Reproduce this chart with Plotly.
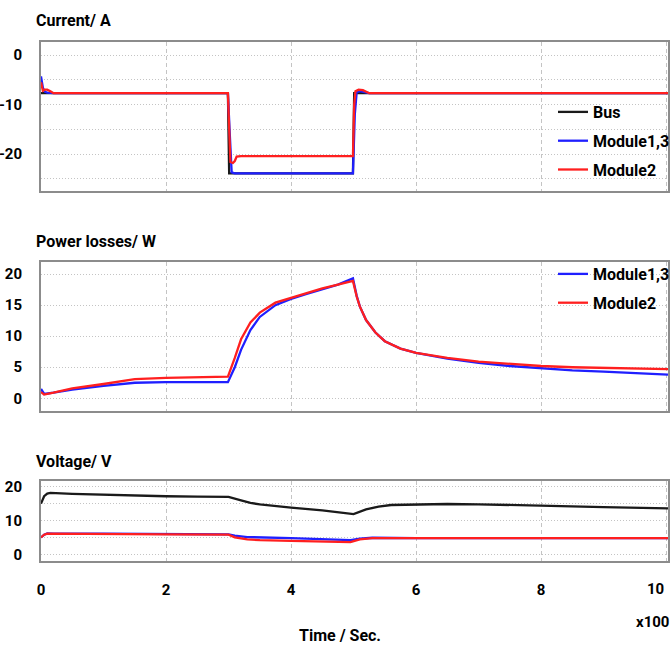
import plotly.graph_objects as go

# ---------------- data ----------------
# Current / A
bus_cur_t = [0, 2.99, 3.01, 4.99, 5.01, 10.03]
bus_cur = [-7.7, -7.7, -23.9, -23.9, -7.7, -7.7]

m13_cur_t = [0, 0.03, 0.06, 0.1, 0.2, 2.99, 3.02, 3.05, 3.1, 3.2, 4.99, 5.02, 5.05, 5.1, 5.15, 5.25, 10.03]
m13_cur = [-4.3, -6.6, -7.4, -7.6, -7.7, -7.7, -16.0, -23.7, -23.9, -23.9, -23.9, -12.0, -7.5, -7.3, -7.4, -7.7, -7.7]

m2_cur_t = [0, 0.03, 0.06, 0.1, 0.15, 0.2, 2.99, 3.01, 3.03, 3.07, 3.1, 3.13, 3.2, 4.99, 5.01, 5.03, 5.08, 5.15, 5.25, 10.03]
m2_cur = [-5.5, -7.2, -7.0, -7.0, -7.3, -7.7, -7.7, -15.0, -21.6, -21.8, -21.4, -20.5, -20.4, -20.4, -10.0, -7.3, -7.0, -7.1, -7.7, -7.7]

# Power losses / W
p_t = [0, 0.05, 0.2, 0.5, 1.0, 1.5, 2.0, 2.5, 2.99, 3.1, 3.2, 3.35, 3.5, 3.75, 4.0, 4.25, 4.5, 4.75, 4.99,
       5.05, 5.1, 5.2, 5.35, 5.5, 5.75, 6.0, 6.5, 7.0, 7.5, 8.0, 8.5, 9.0, 9.5, 10.03]
m13_p = [1.5, 0.7, 0.9, 1.4, 2.0, 2.5, 2.6, 2.6, 2.6, 5.0, 7.8, 11.0, 13.1, 15.0, 16.0, 16.8, 17.5, 18.3, 19.3,
         16.5, 14.8, 12.6, 10.6, 9.2, 8.0, 7.3, 6.4, 5.7, 5.2, 4.8, 4.5, 4.3, 4.1, 3.8]
m2_p = [1.0, 0.6, 0.9, 1.6, 2.3, 3.1, 3.3, 3.4, 3.5, 6.5, 9.5, 12.2, 13.8, 15.4, 16.2, 17.0, 17.7, 18.3, 18.9,
        16.4, 14.8, 12.6, 10.6, 9.2, 8.0, 7.3, 6.5, 5.9, 5.5, 5.2, 5.0, 4.9, 4.8, 4.7]

# Voltage / V
bus_v_t = [0, 0.05, 0.1, 0.15, 0.5, 1.0, 1.5, 2.0, 2.5, 3.0, 3.2, 3.35, 3.5, 3.75, 4.0, 4.5, 4.95,
           5.0, 5.2, 5.4, 5.6, 6.0, 6.5, 7.0, 8.0, 9.0, 10.03]
bus_v = [15.0, 17.2, 18.0, 18.2, 17.9, 17.6, 17.4, 17.2, 17.1, 17.0, 16.0, 15.2, 14.8, 14.2, 13.8, 13.0, 12.0,
         11.9, 13.3, 14.1, 14.6, 14.7, 14.9, 14.8, 14.3, 14.0, 13.6]

m13_v_t = [0, 0.05, 0.1, 0.2, 1.0, 2.0, 3.0, 3.1, 3.3, 4.0, 4.5, 4.95, 5.1, 5.3, 6.0, 8.5, 8.9, 10.03]
m13_v = [5.0, 5.8, 6.2, 6.1, 6.1, 6.0, 5.9, 5.5, 5.1, 4.8, 4.5, 4.2, 4.6, 4.9, 4.8, 4.8, 4.85, 4.8]

m2_v_t = [0, 0.05, 0.1, 0.2, 1.0, 2.0, 3.0, 3.1, 3.3, 3.5, 4.0, 4.5, 4.95, 5.1, 5.3, 6.0, 10.03]
m2_v = [5.0, 5.8, 6.1, 6.1, 6.0, 5.9, 5.8, 5.0, 4.4, 4.2, 4.0, 3.8, 3.6, 4.4, 4.8, 4.8, 4.8]

x_ticks = [0, 2, 4, 6, 8, 10]
x_tick_labels = ["0", "2", "4", "6", "8", "10"]

# ---------------- styling ----------------
W, H = 672, 646
FONT = "Roboto, Liberation Sans, sans-serif"
BLACK = "#1a1a1a"
BLUE = "#1f1fff"
RED = "#ff1f1f"
GRID = "#c4c4c4"
FRAME = "#8c8c8c"


def py(v):
    return 1 - v / H


def px(v):
    return v / W


fig = go.Figure()

lw = 2.3
# Top panel: current
fig.add_trace(go.Scatter(x=bus_cur_t, y=bus_cur, mode="lines", name="Bus",
                         line=dict(color=BLACK, width=lw), xaxis="x", yaxis="y",
                         legend="legend", legendgroup="a"))
fig.add_trace(go.Scatter(x=m13_cur_t, y=m13_cur, mode="lines", name="Module1,3",
                         line=dict(color=BLUE, width=lw), xaxis="x", yaxis="y",
                         legend="legend", legendgroup="b"))
fig.add_trace(go.Scatter(x=m2_cur_t, y=m2_cur, mode="lines", name="Module2",
                         line=dict(color=RED, width=lw), xaxis="x", yaxis="y",
                         legend="legend", legendgroup="c"))
# Middle panel: power losses
fig.add_trace(go.Scatter(x=p_t, y=m13_p, mode="lines", name="Module1,3",
                         line=dict(color=BLUE, width=lw), xaxis="x2", yaxis="y2",
                         legend="legend2", legendgroup="d"))
fig.add_trace(go.Scatter(x=p_t, y=m2_p, mode="lines", name="Module2",
                         line=dict(color=RED, width=lw), xaxis="x2", yaxis="y2",
                         legend="legend2", legendgroup="e"))
# Bottom panel: voltage
fig.add_trace(go.Scatter(x=bus_v_t, y=bus_v, mode="lines", name="Bus",
                         line=dict(color=BLACK, width=lw), xaxis="x3", yaxis="y3", showlegend=False))
fig.add_trace(go.Scatter(x=m13_v_t, y=m13_v, mode="lines", name="Module1,3",
                         line=dict(color=BLUE, width=lw), xaxis="x3", yaxis="y3", showlegend=False))
fig.add_trace(go.Scatter(x=m2_v_t, y=m2_v, mode="lines", name="Module2",
                         line=dict(color=RED, width=lw), xaxis="x3", yaxis="y3", showlegend=False))

xdom = [px(41), px(668)]
tickfont = dict(family=FONT, size=15, color="black", weight="bold")

# the last label ("10") sits just inside the right frame edge in the reference,
# so the axis shows the others and the last one is placed as right-aligned text
x_tick_text = x_tick_labels[:-1] + [""]


def xaxis(anchor, show_labels):
    return dict(domain=xdom, anchor=anchor, range=[0, 10.03], tickvals=x_ticks,
                ticktext=x_tick_text,
                showticklabels=show_labels, ticks="", showgrid=True, gridcolor=GRID,
                griddash="4px,3px", gridwidth=1, zeroline=False, showline=True,
                linecolor=FRAME, linewidth=2, mirror=True, tickfont=tickfont,
                ticklabelstandoff=14, automargin=False)


def yaxis(anchor, dom, rng, tv, tt):
    return dict(domain=dom, anchor=anchor, range=rng, tickvals=tv, ticktext=tt, ticks="",
                showgrid=True, gridcolor=GRID, griddash="1px,2px", gridwidth=1,
                zeroline=False, showline=True, linecolor=FRAME, linewidth=2, mirror=True,
                tickfont=tickfont, ticklabelstandoff=14, automargin=False)


legfont = dict(family=FONT, size=16, color="black", weight="bold")

fig.update_layout(
    width=W, height=H,
    margin=dict(l=0, r=0, t=0, b=0, autoexpand=False),
    paper_bgcolor="white", plot_bgcolor="white",
    font=dict(family=FONT, size=16, color="black", weight="bold"),
    xaxis=xaxis("y", False),
    yaxis=yaxis("x", [py(190.7), py(41.7)], [-27.4, 2.7],
                [-25, -20, -15, -10, -5, 0], ["", "-20", "", "-10", "", "0"]),
    xaxis2=xaxis("y2", False),
    yaxis2=yaxis("x2", [py(410.7), py(261.7)], [-2.0, 22.0],
                 [0, 5, 10, 15, 20], ["0", "5", "10", "15", "20"]),
    xaxis3=xaxis("y3", True),
    yaxis3=yaxis("x3", [py(560.7), py(480.7)], [-1.9, 21.8],
                 [0, 5, 10, 15, 20], ["0", "", "10", "", "20"]),
    legend=dict(x=px(553), y=py(95), xanchor="left", yanchor="top",
                bgcolor="rgba(255,255,255,0)", borderwidth=0, tracegroupgap=5,
                font=legfont),
    legend2=dict(x=px(553), y=py(257), xanchor="left", yanchor="top",
                 bgcolor="rgba(255,255,255,0)", borderwidth=0, tracegroupgap=5,
                 font=legfont),
    showlegend=True,
)

# last x tick label, right-aligned on its tick position
fig.add_annotation(text=x_tick_labels[-1], x=x_ticks[-1], xref="x3", y=py(589), yref="paper",
                   xanchor="right", yanchor="middle", showarrow=False, font=tickfont)

titles = [("Current/ A", 20.7), ("Power losses/ W", 241.7), ("Voltage/ V", 461.7)]
for txt, yy in titles:
    fig.add_annotation(text=txt, x=px(34), y=py(yy), xref="paper", yref="paper",
                       xanchor="left", yanchor="middle", showarrow=False,
                       font=dict(family=FONT, size=16, color="black", weight="bold"))

fig.add_annotation(text="Time / Sec.", x=px(340), y=py(635), xref="paper", yref="paper",
                   xanchor="center", yanchor="middle", showarrow=False,
                   font=dict(family=FONT, size=16, color="black", weight="bold"))
fig.add_annotation(text="x100", x=px(671), y=py(622), xref="paper", yref="paper",
                   xanchor="right", yanchor="middle", showarrow=False,
                   font=dict(family=FONT, size=15, color="black", weight="bold"))

# remove the default 8px page margin so the 672x646 figure fills the window exactly
fig.write_html("out.html", config={"displayModeBar": False},
               post_script="document.body.style.margin='0px';")
